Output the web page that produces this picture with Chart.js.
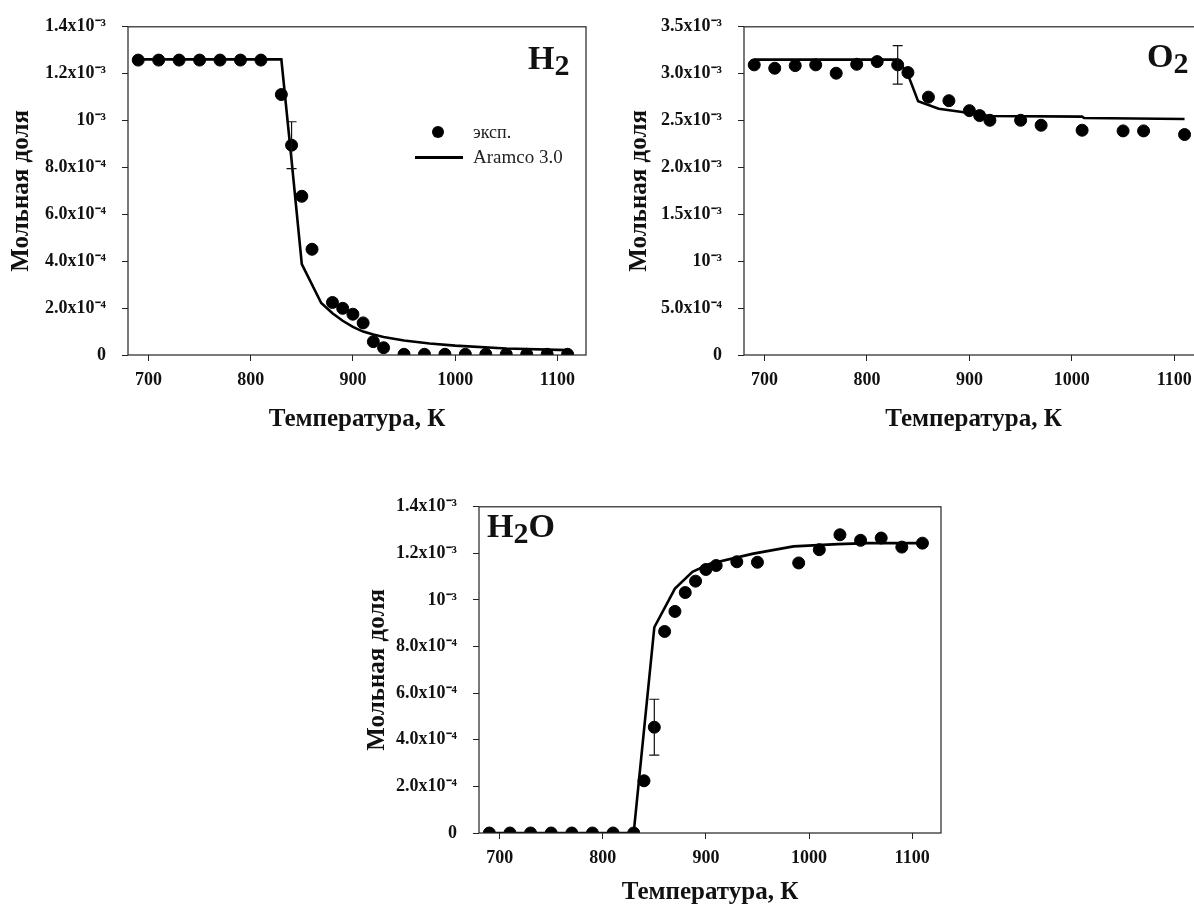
<!DOCTYPE html>
<html>
<head>
<meta charset="utf-8">
<script src="https://cdn.jsdelivr.net/npm/chart.js@4.4.0/dist/chart.umd.min.js"></script>
<style>
body { margin: 0; width: 1194px; height: 911px; overflow: hidden; background: #fff; position: relative;
       font-family: 'Liberation Serif', 'Times New Roman', serif; }
canvas { position: absolute; }
.lbl { position: absolute; font-weight: bold; font-size: 34px; line-height: 1; color: #111; white-space: nowrap; }
.lbl sub { font-size: 30px; vertical-align: -6px; line-height: 0; }
.leg { position: absolute; font-size: 18px; line-height: 22px; color: #222; white-space: nowrap; }
.dot { position: absolute; width: 12px; height: 12px; border-radius: 50%; background: #000; }
.dash { position: absolute; height: 3px; background: #000; }
</style>
</head>
<body>
<canvas id="cH2" width="600" height="440" style="left:0px;top:0px"></canvas>
<canvas id="cO2" width="600" height="440" style="left:610px;top:0px"></canvas>
<canvas id="cH2O" width="600" height="431" style="left:350px;top:480px"></canvas>

<div class="lbl" style="left:528px;top:41px">H<sub>2</sub></div>
<div class="lbl" style="left:1147px;top:39px">O<sub>2</sub></div>
<div class="lbl" style="left:487px;top:509px">H<sub>2</sub>O</div>

<div class="dot" style="left:432px;top:126px"></div>
<div class="leg" style="left:473px;top:121px">эксп.</div>
<div class="dash" style="left:415px;top:156px;width:48px"></div>
<div class="leg" style="left:473px;top:146px;font-size:19px">Aramco 3.0</div>

<script>
// температура, К
const xTicks = [700, 800, 900, 1000, 1100];
const h2YTicks = [0, 2e-4, 4e-4, 6e-4, 8e-4, 1e-3, 1.2e-3, 1.4e-3];
const o2YTicks = [0, 5e-4, 1e-3, 1.5e-3, 2e-3, 2.5e-3, 3e-3, 3.5e-3];

// H2
const h2ExpT = [690, 710, 730, 750, 770, 790, 810, 830, 840, 850, 860, 880, 890, 900, 910, 920, 930,
                950, 970, 990, 1010, 1030, 1050, 1070, 1090, 1110];
const h2ExpV = [1.258e-3, 1.258e-3, 1.258e-3, 1.258e-3, 1.258e-3, 1.258e-3, 1.258e-3, 1.111e-3, 0.895e-3,
                0.677e-3, 0.451e-3, 0.224e-3, 0.199e-3, 0.174e-3, 0.137e-3, 0.057e-3, 0.031e-3,
                0.003e-3, 0.003e-3, 0.003e-3, 0.003e-3, 0.003e-3, 0.003e-3, 0.003e-3, 0.003e-3, 0.003e-3];
const h2ModT = [690, 830, 840, 850, 869, 880, 890, 900, 910, 920, 930, 950, 975, 1000, 1050, 1110];
const h2ModV = [1.261e-3, 1.261e-3, 0.83e-3, 0.388e-3, 0.222e-3, 0.178e-3, 0.146e-3, 0.12e-3, 0.10e-3,
                0.087e-3, 0.077e-3, 0.062e-3, 0.049e-3, 0.040e-3, 0.028e-3, 0.021e-3];
const h2Err = [{ x: 840, y: 0.895e-3, err: 0.1e-3 }];

// O2
const o2ExpT = [690, 710, 730, 750, 770, 790, 810, 830, 840, 860, 880, 900, 910, 920, 950, 970,
                1010, 1050, 1070, 1110];
const o2ExpV = [3.094e-3, 3.058e-3, 3.086e-3, 3.094e-3, 3.005e-3, 3.100e-3, 3.129e-3, 3.094e-3, 3.012e-3,
                2.750e-3, 2.712e-3, 2.606e-3, 2.553e-3, 2.503e-3, 2.503e-3, 2.450e-3,
                2.397e-3, 2.390e-3, 2.390e-3, 2.351e-3];
const o2ModT = [690, 830, 840, 850, 870, 900, 920, 1010, 1012, 1110];
const o2ModV = [3.15e-3, 3.15e-3, 2.99e-3, 2.705e-3, 2.627e-3, 2.58e-3, 2.548e-3, 2.542e-3, 2.527e-3, 2.517e-3];
const o2Err = [{ x: 830, y: 3.094e-3, err: 0.205e-3 }];

// H2O
const h2oExpT = [690, 710, 730, 750, 770, 790, 810, 830, 840, 850, 860, 870, 880, 890, 900, 910,
                 930, 950, 990, 1010, 1030, 1050, 1070, 1090, 1110];
const h2oExpV = [0, 0, 0, 0, 0, 0, 0, 0, 0.224e-3, 0.454e-3, 0.865e-3, 0.951e-3, 1.032e-3, 1.081e-3,
                 1.131e-3, 1.148e-3, 1.164e-3, 1.162e-3, 1.159e-3, 1.216e-3, 1.280e-3, 1.256e-3,
                 1.266e-3, 1.227e-3, 1.244e-3];
const h2oModT = [690, 830, 850, 870, 887, 904, 946, 985, 1028, 1057, 1110];
const h2oModV = [0, 0, 0.883e-3, 1.049e-3, 1.121e-3, 1.156e-3, 1.199e-3, 1.230e-3, 1.240e-3, 1.244e-3, 1.244e-3];
const h2oErr = [{ x: 850, y: 0.454e-3, err: 0.12e-3 }];

const FONT = "'Liberation Serif', 'Times New Roman', serif";
const SUP = { '-': '\u207B', '0': '\u2070', '1': '\u00B9', '2': '\u00B2', '3': '\u00B3', '4': '\u2074',
              '5': '\u2075', '6': '\u2076', '7': '\u2077', '8': '\u2078', '9': '\u2079' };

function sci(v) {
    v = +(+v).toPrecision(6);
    if (Math.abs(v) < 1e-12) return '0';
    const e = Math.floor(Math.log10(v) + 1e-9);
    const m = v / Math.pow(10, e);
    const p = '10' + String(e).split('').map(c => SUP[c]).join('');
    if (Math.abs(m - 1) < 1e-6) return p;
    return m.toFixed(1) + 'x' + p;
}

function pairs(xs, ys) {
    return xs.map((x, i) => ({ x: x, y: ys[i] }));
}

// рамка вокруг области графика + планки погрешностей
const framePlugin = {
    id: 'frame',
    afterDatasetsDraw(chart, args, opts) {
        const { ctx, chartArea: a } = chart;
        const sx = chart.scales.x, sy = chart.scales.y;
        ctx.save();
        ctx.strokeStyle = '#222';
        ctx.lineWidth = 1.2;
        ctx.strokeRect(a.left, a.top, a.right - a.left, a.bottom - a.top);
        ctx.strokeStyle = '#111';
        ctx.lineWidth = 1.2;
        (opts.errors || []).forEach(e => {
            const px = sx.getPixelForValue(e.x);
            const y1 = sy.getPixelForValue(e.y - e.err);
            const y2 = sy.getPixelForValue(e.y + e.err);
            ctx.beginPath();
            ctx.moveTo(px, y1); ctx.lineTo(px, y2);
            ctx.moveTo(px - 5, y1); ctx.lineTo(px + 5, y1);
            ctx.moveTo(px - 5, y2); ctx.lineTo(px + 5, y2);
            ctx.stroke();
        });
        ctx.restore();
    }
};

function makeChart(id, o) {
    return new Chart(document.getElementById(id), {
        type: 'scatter',
        data: {
            datasets: [{
                label: 'эксп.',
                data: pairs(o.expT, o.expV),
                pointRadius: 6,
                pointBackgroundColor: '#000',
                pointBorderColor: '#000',
                showLine: false
            }, {
                label: 'Aramco 3.0',
                data: pairs(o.modT, o.modV),
                showLine: true,
                borderColor: '#000',
                borderWidth: 2.6,
                pointRadius: 0,
                tension: 0
            }]
        },
        options: {
            responsive: false,
            animation: false,
            layout: { padding: o.pad },
            plugins: {
                legend: { display: false },
                tooltip: { enabled: false },
                frame: { errors: o.errors }
            },
            scales: {
                x: {
                    type: 'linear',
                    min: 680,
                    max: 1128,
                    afterBuildTicks: s => { s.ticks = xTicks.map(v => ({ value: v })); },
                    afterFit: s => { s.height = o.xh; },
                    ticks: { color: '#111', padding: 9, callback: v => String(v),
                             font: { family: FONT, size: 18, weight: 'bold' } },
                    grid: { drawOnChartArea: false, drawTicks: true, tickLength: 6, color: '#222' },
                    border: { display: false },
                    title: { display: true, text: 'Температура, К', color: '#111',
                             padding: { top: 0, bottom: o.xtPad },
                             font: { family: FONT, size: 25, weight: 'bold' } }
                },
                y: {
                    type: 'linear',
                    min: 0,
                    max: o.yTicks[o.yTicks.length - 1],
                    afterBuildTicks: s => { s.ticks = o.yTicks.map(v => ({ value: v })); },
                    afterFit: s => { s.width = o.yw; },
                    ticks: { color: '#111', padding: 16, callback: v => sci(v),
                             font: { family: FONT, size: 18, weight: 'bold' } },
                    grid: { drawOnChartArea: false, drawTicks: true, tickLength: 6, color: '#222' },
                    border: { display: false },
                    title: { display: true, text: 'Мольная доля', color: '#111',
                             padding: { top: o.ytPad, bottom: 0 },
                             font: { family: FONT, size: 25, weight: 'bold' } }
                }
            }
        },
        plugins: [framePlugin]
    });
}

makeChart('cH2', {
    expT: h2ExpT, expV: h2ExpV, modT: h2ModT, modV: h2ModV, errors: h2Err, yTicks: h2YTicks,
    pad: { top: 26, right: 14, left: 0, bottom: 0 }, yw: 128, xh: 85, xtPad: 5, ytPad: 7
});
makeChart('cO2', {
    expT: o2ExpT, expV: o2ExpV, modT: o2ModT, modV: o2ModV, errors: o2Err, yTicks: o2YTicks,
    pad: { top: 25, right: 7, left: 0, bottom: 0 }, yw: 134, xh: 85, xtPad: 5, ytPad: 15
});
makeChart('cH2O', {
    expT: h2oExpT, expV: h2oExpV, modT: h2oModT, modV: h2oModV, errors: h2oErr, yTicks: h2YTicks,
    pad: { top: 23, right: 9, left: 0, bottom: 0 }, yw: 129, xh: 78, xtPad: 3, ytPad: 13
});
</script>
</body>
</html>
